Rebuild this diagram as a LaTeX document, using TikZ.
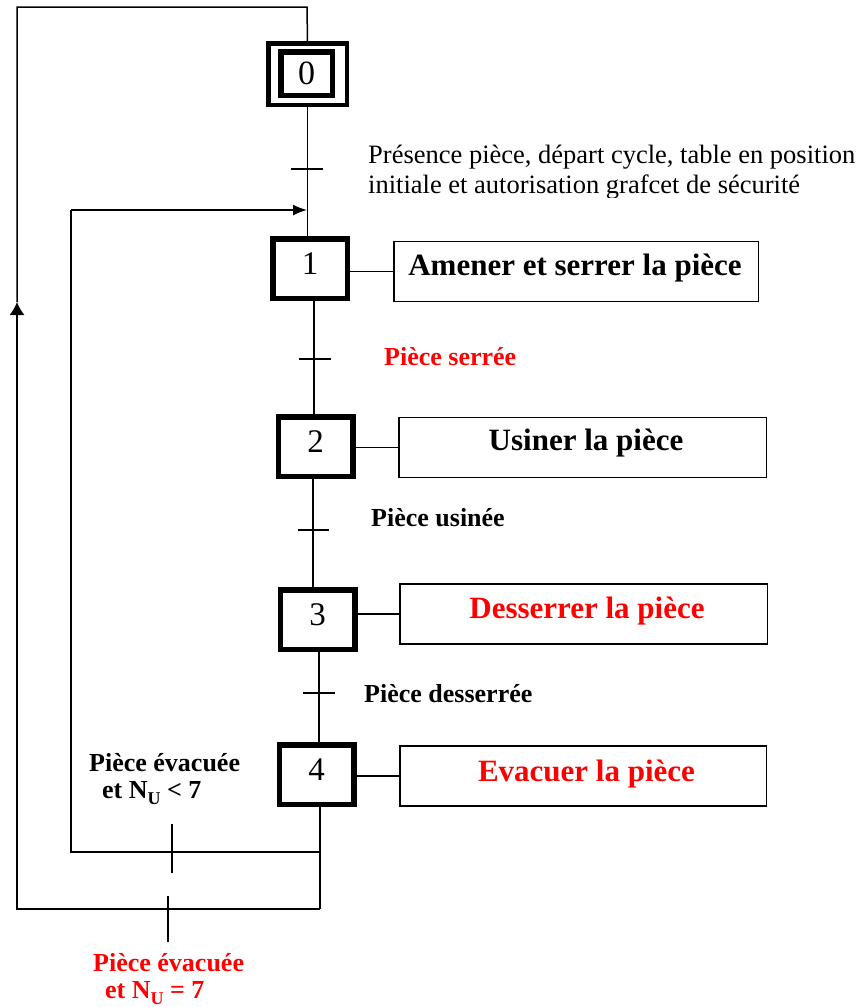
\documentclass[tikz,border=0pt]{standalone}
\usepackage{fontspec}
\setmainfont{Liberation Serif}
\usetikzlibrary{arrows.meta}

\definecolor{txtred}{RGB}{255,0,0}

\newcommand{\NU}{N\raisebox{-0.22em}{\fontsize{18}{18}\selectfont U}}

\tikzset{
  stepbox/.style={draw, line width=5.5pt, minimum width=74.5pt, minimum height=59.5pt,
    inner sep=0pt, text depth=10pt, font=\fontsize{33}{33}\selectfont},
  actbox/.style={draw, line width=1.5pt, minimum width=366pt, minimum height=60pt, inner sep=0pt},
  wire/.style={line width=1.5pt},
  recep/.style={line width=1.5pt},
  acttxt/.style={anchor=base, inner sep=0pt, font=\fontsize{31}{31}\selectfont\bfseries},
  condtxt/.style={anchor=west, inner sep=0pt, font=\fontsize{26}{26}\selectfont\bfseries},
  plaintxt/.style={anchor=base west, inner sep=0pt, font=\fontsize{26.5}{30}\selectfont},
  upflow/.style={-{Latex[length=13pt,width=15pt]}},
  inflow/.style={-{Latex[length=14pt,width=11pt]}},
}

\begin{document}
\begin{tikzpicture}[x=1pt,y=-1pt]
\useasboundingbox (0,0) rectangle (864,1007);

% ---- initial step (double frame) ----
\node[draw, line width=4.5pt, minimum width=78.5pt, minimum height=61.5pt, inner sep=0pt] (s0) at (307.5,74) {};
\node[draw, line width=5.5pt, minimum width=51.5pt, minimum height=43.5pt, inner sep=0pt,
      font=\fontsize{34}{34}\selectfont] (s0in) at (306.5,73.5) {0};

% ---- steps ----
\node[stepbox] (s1) at (310,268.5) {1};
\node[stepbox] (s2) at (315.5,446.5) {2};
\node[stepbox] (s3) at (317.5,619.5) {3};
\node[stepbox] (s4) at (316.5,774.5) {4};

% ---- actions ----
\node[actbox, minimum width=364.5pt] (a1) at (576,271.5) {};
\node[actbox, minimum width=367.5pt] (a2) at (582.5,447.5) {};
\node[actbox, minimum width=367.5pt] (a3) at (583.5,614) {};
\node[actbox, minimum width=366.5pt] (a4) at (583,776) {};

\node[acttxt] (a1t) at (575,275) {Amener et serrer la pièce};
\node[acttxt] (a2t) at (586,450) {Usiner la pièce};
\node[acttxt, text=txtred] (a3t) at (587,618) {Desserrer la pièce};
\node[acttxt, text=txtred] (a4t) at (586.5,781) {Evacuer la pièce};

\draw[wire] (a1.west -| s1.east) -- (a1.west);
\draw[wire] (a2.west -| s2.east) -- (a2.west);
\draw[wire] (a3.west -| s3.east) -- (a3.west);
\draw[wire] (a4.west -| s4.east) -- (a4.west);

% ---- transition points ----
\coordinate (t01) at (307,169);
\coordinate (t12) at (314,359);
\coordinate (t23) at (313,530);
\coordinate (t34) at (319,693);
\coordinate (j1)  at (307,210);
\coordinate (jb1) at (320,852);
\coordinate (jb2) at (320,909);
\coordinate (tA)  at (172,852);
\coordinate (tB)  at (168,909);

% ---- main sequence links ----
\draw[wire] (s0.south) -- (s0.south |- s1.north);
\draw[wire] (s1.south -| t12) -- (s2.north -| t12);
\draw[wire] (s2.south -| t23) -- (s3.north -| t23);
\draw[wire] (s3.south -| t34) -- (s4.north -| t34);
\draw[wire] (s4.south -| jb2) -- (jb2);

% ---- receptivity bars ----
\draw[recep] ([xshift=-16pt]t01) -- ([xshift=16pt]t01);
\draw[recep] ([xshift=-15pt]t12) -- ([xshift=17pt]t12);
\draw[recep] ([xshift=-15pt]t23) -- ([xshift=16pt]t23);
\draw[recep] ([xshift=-16pt]t34) -- ([xshift=16pt]t34);
\draw[recep] ([yshift=28pt]tA) -- ([yshift=-21pt]tA);
\draw[recep] ([yshift=13pt]tB) -- ([yshift=-33pt]tB);

% ---- loop back to step 1 ----
\coordinate (l1) at (71,852);
\coordinate (l2) at (71,210);
\draw[wire] (jb1) -- (l1) -- (l2);
\draw[wire, inflow] (l2) -- (j1);

% ---- loop back to step 0 ----
\coordinate (o1) at (17,909);
\coordinate (oA) at (17,302);
\coordinate (o2) at (17,7);
\coordinate (o3) at (307,7);
\draw[wire, upflow] (jb2) -- (o1) -- (oA);
\draw[wire] (oA) -- (o2) -- (o3) -- (s0.north);

% ---- receptivities ----
\begin{scope}
  \clip (360,130) rectangle (864,197);
  \node[plaintxt] (c01a) at (368,163) {Présence pièce, départ cycle, table en position};
  \node[plaintxt] (c01b) at (368,193) {initiale et autorisation grafcet de sécurité};
\end{scope}
\node[condtxt, text=txtred] (c12) at (384,357) {Pièce serrée};
\node[condtxt] (c23) at (371,518) {Pièce usinée};
\node[condtxt] (c34) at (364,694) {Pièce desserrée};
\node[condtxt] (cAa) at (89,763) {Pièce évacuée};
\node[condtxt] (cAb) at (102,793) {et \NU{} < 7};
\node[condtxt, text=txtred] (cBa) at (93,963) {Pièce évacuée};
\node[condtxt, text=txtred] (cBb) at (105,993) {et \NU{} = 7};
\end{tikzpicture}
\end{document}
